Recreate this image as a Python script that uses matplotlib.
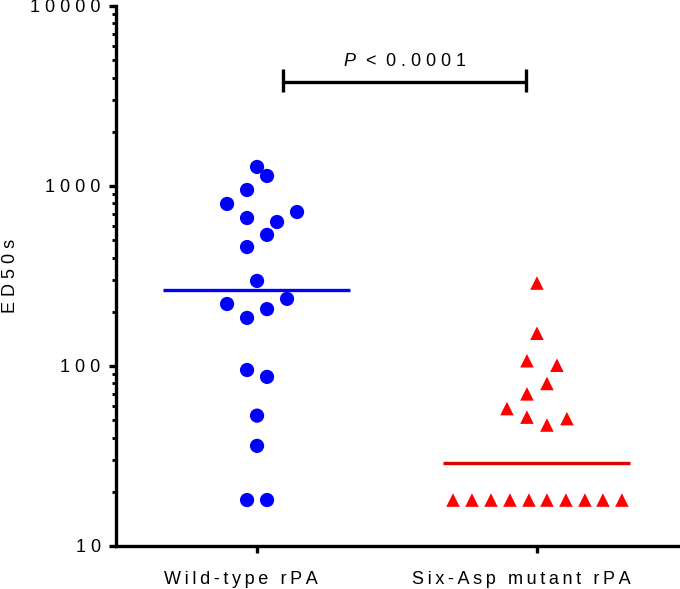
import matplotlib
matplotlib.use("Agg")
import matplotlib.pyplot as plt
from matplotlib.ticker import FixedLocator, LogLocator, NullFormatter
import numpy as np

plt.rcParams['font.family'] = ['Liberation Sans', 'DejaVu Sans']
plt.rcParams['mathtext.fontset'] = 'custom'
plt.rcParams['mathtext.it'] = 'Liberation Sans:italic'
plt.rcParams['mathtext.rm'] = 'Liberation Sans'

groups = ['Wild-type rPA', 'Six-Asp mutant rPA']

# ED50 values
wild_type = [1276, 1137, 950, 795, 717, 664, 631, 535, 458, 297,
             236, 221, 207, 185, 95, 87, 53, 36, 18, 18]
wild_slot = [0, 1, -1, -3, 4, -1, 2, 1, -1, 0,
             3, -3, 1, -1, -1, 1, 0, 0, -1, 1]

mutant = [289, 152, 107, 101, 80, 70, 58, 52, 47, 51,
          18, 18, 18, 18, 18, 18, 18, 18, 18, 18]
mutant_slot = [0, 0, -1, 2, 1, -1, -3, -1, 1, 3,
               -8.4, -6.5, -4.6, -2.7, -0.8, 1.0, 2.9, 4.8, 6.6, 8.5]

medians = [264, 29]
yticks = [10, 100, 1000, 10000]

slot_w = 10 / 280.0  # one swarm slot in data units


def spaced(s, sep='\u2009'):
    return sep.join(s)


fig = plt.figure(figsize=(6.8, 5.89), dpi=100)
ax = fig.add_axes([116 / 680, 43 / 589, 562 / 680, 540 / 589])

ax.scatter(np.array(wild_slot) * slot_w + 0, wild_type, s=105, marker='o',
           color='#0000ff', edgecolors='none', zorder=3)
ax.scatter(np.array(mutant_slot) * slot_w + 1, mutant, s=95, marker='^',
           color='#ff0000', edgecolors='none', zorder=3)

ax.hlines(medians[0], -0.336, 0.333, color='#0000ff', lw=2.4, zorder=2)
ax.hlines(medians[1], 1 - 0.336, 1 + 0.333, color='#e00000', lw=2.4, zorder=2)

ax.set_yscale('log')
ax.set_ylim(10, 10000)
ax.set_xlim(-0.504, 1.504)

ax.yaxis.set_major_locator(FixedLocator(yticks))
ax.set_yticklabels([spaced(str(v), ' ') for v in yticks])
ax.yaxis.set_minor_locator(LogLocator(base=10, subs=np.arange(2, 10)))
ax.yaxis.set_minor_formatter(NullFormatter())

# ticks at the groups, labels set a little to the left as in the original
ax.set_xticks([0, 1])
ax.set_xticklabels(['', ''])
ax.set_xticks([-0.057, 0.943], minor=True)
ax.set_xticklabels([spaced(g) for g in groups], minor=True)
ax.tick_params(axis='x', which='minor', length=0, pad=18, labelsize=13)

for side in ['top', 'right']:
    ax.spines[side].set_visible(False)
for side in ['left', 'bottom']:
    ax.spines[side].set_linewidth(2.4)

ax.tick_params(axis='both', which='major', length=5, width=2.4,
               labelsize=13, colors='black', pad=6)
ax.tick_params(axis='y', which='minor', length=3, width=2.0)

ax.set_ylabel(spaced('ED50s', ' '), fontsize=13, labelpad=8)

# significance bracket
bx0, bx1, by = 0.093, 0.961, 3796
ax.plot([bx0, bx1], [by, by], color='black', lw=2.4, solid_capstyle='butt')
ax.plot([bx0, bx0], [3327, 4467], color='black', lw=2.4, solid_capstyle='butt')
ax.plot([bx1, bx1], [3327, 4467], color='black', lw=2.4, solid_capstyle='butt')
ax.text((bx0 + bx1) / 2, 4642, '$\\it{P}$' + '  <  ' + spaced('0.0001', ' '),
        ha='center', va='baseline', fontsize=13)

fig.savefig('out.png', dpi=100)
